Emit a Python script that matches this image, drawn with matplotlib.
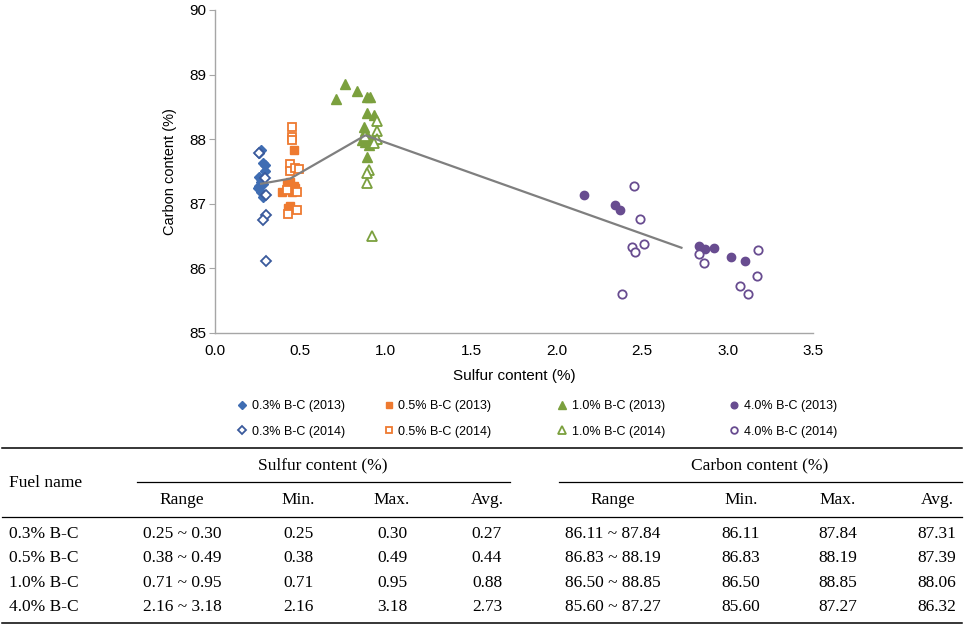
import matplotlib
matplotlib.use("Agg")
import matplotlib.pyplot as plt
from matplotlib.lines import Line2D

# ---------------- data ----------------
fuels = ["0.3% B-C", "0.5% B-C", "1.0% B-C", "4.0% B-C"]

s03_2013_x = [0.27, 0.26, 0.28, 0.29, 0.29, 0.26, 0.27, 0.27, 0.25, 0.27, 0.28, 0.28, 0.26]
s03_2013_y = [87.84, 87.78, 87.63, 87.60, 87.50, 87.42, 87.38, 87.34, 87.24, 87.19, 87.11, 87.30, 87.28]
s03_2014_x = [0.26, 0.29, 0.30, 0.30, 0.28, 0.30]
s03_2014_y = [87.78, 87.40, 87.14, 86.83, 86.75, 86.11]

s05_2013_x = [0.46, 0.39, 0.44, 0.46, 0.45, 0.47, 0.44, 0.43, 0.42]
s05_2013_y = [87.83, 87.18, 87.33, 87.27, 87.19, 87.25, 86.96, 86.93, 87.30]
s05_2014_x = [0.45, 0.45, 0.45, 0.44, 0.44, 0.47, 0.49, 0.48, 0.48, 0.43, 0.42]
s05_2014_y = [88.19, 88.03, 87.99, 87.61, 87.51, 87.56, 87.54, 87.19, 86.90, 86.84, 87.22]

s10_2013_x = [0.71, 0.76, 0.83, 0.89, 0.91, 0.89, 0.93, 0.87, 0.88, 0.86, 0.91, 0.90, 0.89, 0.93, 0.88]
s10_2013_y = [88.63, 88.85, 88.75, 88.65, 88.65, 88.40, 88.37, 88.19, 88.13, 87.99, 87.99, 87.91, 87.73, 88.00, 87.95]
s10_2014_x = [0.95, 0.95, 0.95, 0.93, 0.90, 0.89, 0.89, 0.92, 0.88]
s10_2014_y = [88.28, 88.13, 88.00, 87.94, 87.52, 87.47, 87.32, 86.50, 88.05]

s40_2013_x = [2.16, 2.34, 2.37, 2.83, 2.85, 2.87, 2.92, 3.02, 3.10]
s40_2013_y = [87.13, 86.98, 86.91, 86.34, 86.30, 86.30, 86.32, 86.18, 86.11]
s40_2014_x = [2.45, 2.49, 2.51, 2.44, 2.46, 2.38, 2.83, 2.86, 3.18, 3.17, 3.07, 3.12]
s40_2014_y = [87.27, 86.76, 86.38, 86.33, 86.26, 85.60, 86.22, 86.08, 86.28, 85.88, 85.73, 85.61]

sulfur_min = [0.25, 0.38, 0.71, 2.16]
sulfur_max = [0.30, 0.49, 0.95, 3.18]
sulfur_avg = [0.27, 0.44, 0.88, 2.73]
carbon_min = [86.11, 86.83, 86.50, 85.60]
carbon_max = [87.84, 88.19, 88.85, 87.27]
carbon_avg = [87.31, 87.39, 88.06, 86.32]

x_ticks = [0.0, 0.5, 1.0, 1.5, 2.0, 2.5, 3.0, 3.5]
y_ticks = [85, 86, 87, 88, 89, 90]

# ---------------- styles ----------------
W, H = 964, 629
fig = plt.figure(figsize=(W / 100, H / 100), dpi=100)
plt.rcParams['font.family'] = ['Liberation Sans', 'DejaVu Sans']

def fx(px):
    return px / W

def fy(py):
    return 1 - py / H

ax = fig.add_axes([fx(215), fy(333), fx(813) - fx(215), fy(10) - fy(333)])

blue = "#3F6DB3"
blue_open = "#3A5A9C"
orange = "#EE7A30"
green = "#7BA03E"
purple = "#684C90"

series = [
    (s03_2013_x, s03_2013_y, "D", blue, True, 5.2, "0.3% B-C (2013)"),
    (s03_2014_x, s03_2014_y, "D", blue_open, False, 5.2, "0.3% B-C (2014)"),
    (s05_2013_x, s05_2013_y, "s", orange, True, 6.0, "0.5% B-C (2013)"),
    (s05_2014_x, s05_2014_y, "s", orange, False, 6.0, "0.5% B-C (2014)"),
    (s10_2013_x, s10_2013_y, "^", green, True, 7.0, "1.0% B-C (2013)"),
    (s10_2014_x, s10_2014_y, "^", green, False, 7.0, "1.0% B-C (2014)"),
    (s40_2013_x, s40_2013_y, "o", purple, True, 6.0, "4.0% B-C (2013)"),
    (s40_2014_x, s40_2014_y, "o", purple, False, 6.0, "4.0% B-C (2014)"),
]

handles = []
for xs, ys, m, c, filled, ms, lab in series:
    h, = ax.plot(xs, ys, linestyle="none", marker=m, markersize=ms,
                 markerfacecolor=c if filled else "white", markeredgecolor=c,
                 markeredgewidth=1.0 if filled else 1.3, label=lab, zorder=3)
    handles.append(h)

ax.plot(sulfur_avg, carbon_avg, color="#7F7F7F", linewidth=1.6, zorder=4)

ax.set_xlim(0, 3.5)
ax.set_ylim(85, 90)
ax.set_xticks(x_ticks)
ax.set_xticklabels([f"{v:.1f}" for v in x_ticks])
ax.set_yticks(y_ticks)
for s in ["top", "right"]:
    ax.spines[s].set_visible(False)
for s in ["left", "bottom"]:
    ax.spines[s].set_color("#A6A6A6")
    ax.spines[s].set_linewidth(1.0)
ax.tick_params(axis="y", direction="out", length=4, color="#A6A6A6", labelsize=11, pad=2)
ax.tick_params(axis="x", direction="out", length=0, color="#A6A6A6", labelsize=11, pad=8)
ax.set_xlabel("Sulfur content (%)", fontsize=11, labelpad=8)
ax.set_ylabel("Carbon content (%)", fontsize=10.5, labelpad=9)

# legends: one per fuel column
leg_x = [239, 386, 559, 731]
for i in range(4):
    lg = fig.legend(handles=[handles[2 * i], handles[2 * i + 1]], loc="upper left",
                    bbox_to_anchor=(fx(leg_x[i]), fy(400)), frameon=False,
                    fontsize=9, handlelength=0.5, handletextpad=0.5,
                    labelspacing=1.1, borderaxespad=0, borderpad=0, markerscale=0.8)

# ---------------- table ----------------
serif = ['Liberation Serif', 'DejaVu Serif']
tfs = 12.5

def hline(x0, x1, y, lw=1.0):
    fig.add_artist(Line2D([fx(x0), fx(x1)], [fy(y), fy(y)], color="black", linewidth=lw))

hline(2, 962, 448, 1.1)
hline(137, 510, 482, 0.9)
hline(559, 962, 482, 0.9)
hline(2, 962, 517, 0.9)
hline(2, 962, 623, 1.1)

fig.text(fx(9), fy(483), "Fuel name", family=serif, fontsize=tfs, ha="left", va="center")
fig.text(fx(323), fy(465), "Sulfur content (%)", family=serif, fontsize=tfs, ha="center", va="center")
fig.text(fx(760), fy(465), "Carbon content (%)", family=serif, fontsize=tfs, ha="center", va="center")

sub_heads = ["Range", "Min.", "Max.", "Avg."]
s_cols = [182, 298, 392, 487]
c_cols = [613, 741, 838, 937]
for h, xs, xc in zip(sub_heads, s_cols, c_cols):
    fig.text(fx(xs), fy(500), h, family=serif, fontsize=tfs, ha="center", va="center")
    fig.text(fx(xc), fy(500), h, family=serif, fontsize=tfs, ha="center", va="center")

row_y = [534, 558, 583, 607]
for i, name in enumerate(fuels):
    y = fy(row_y[i])
    fig.text(fx(9), y, name, family=serif, fontsize=tfs, ha="left", va="center")
    s_vals = [f"{sulfur_min[i]:.2f} ~ {sulfur_max[i]:.2f}", f"{sulfur_min[i]:.2f}",
              f"{sulfur_max[i]:.2f}", f"{sulfur_avg[i]:.2f}"]
    c_vals = [f"{carbon_min[i]:.2f} ~ {carbon_max[i]:.2f}", f"{carbon_min[i]:.2f}",
              f"{carbon_max[i]:.2f}", f"{carbon_avg[i]:.2f}"]
    for v, xs in zip(s_vals, s_cols):
        fig.text(fx(xs), y, v, family=serif, fontsize=tfs, ha="center", va="center")
    for v, xc in zip(c_vals, c_cols):
        fig.text(fx(xc), y, v, family=serif, fontsize=tfs, ha="center", va="center")

fig.savefig("out.png", dpi=100)
